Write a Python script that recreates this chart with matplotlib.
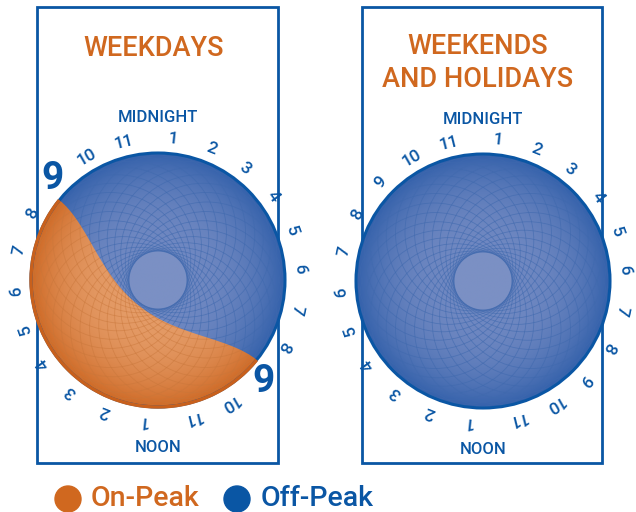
import numpy as np
import matplotlib
matplotlib.use("Agg")
import matplotlib.pyplot as plt
from matplotlib.patches import Circle, Rectangle, Polygon

# data
panel_titles = ["WEEKDAYS", "WEEKENDS\nAND HOLIDAYS"]
on_peak = [(9, 21), None]          # on-peak hours per panel (start, end)
hour_labels = [str(h) for h in range(1, 12)]
legend_labels = ["On-Peak", "Off-Peak"]

ORANGE = "#D0681F"
BLUE = "#0A56A4"
FONT = "Roboto"

fig = plt.figure(figsize=(6.36, 5.12), dpi=100)
ax = fig.add_axes([0, 0, 1, 1])
ax.set_xlim(0, 636)
ax.set_ylim(512, 0)
ax.axis("off")

R = 127
R_HOLE = 29
N_RINGS = 32
BULGE = 32


def clock_angle(h):
    # clockwise degrees from top, the labels are spread a bit on the sides
    h = h % 24
    half, hh = divmod(h, 12)
    if hh == 0:
        return 180.0 * half
    return 180.0 * half + 16 * hh - 10


def pt(cx, cy, ang, r):
    a = np.radians(ang)
    return cx + r * np.sin(a), cy - r * np.cos(a)


def shaded(cx, cy, light, dark, hole=None):
    n = 300
    xs = np.linspace(cx - R, cx + R, n)
    ys = np.linspace(cy - R, cy + R, n)
    X, Y = np.meshgrid(xs, ys)
    rr = np.clip(np.hypot(X - cx, Y - cy) / R, 0, 1)
    t = rr ** 3
    light = np.array(matplotlib.colors.to_rgb(light))
    dark = np.array(matplotlib.colors.to_rgb(dark))
    img = light[None, None, :] * (1 - t[..., None]) + dark[None, None, :] * t[..., None]
    if hole is not None:
        img[rr * R < R_HOLE] = matplotlib.colors.to_rgb(hole)
    return img, (cx - R, cx + R, cy + R, cy - R)


def rings(cx, cy, color, alpha, clip, z):
    rc = (R + R_HOLE) / 2
    d = (R - R_HOLE) / 2
    for k in range(N_RINGS):
        a = 2 * np.pi * k / N_RINGS
        c = Circle((cx + d * np.cos(a), cy + d * np.sin(a)), rc, fill=False,
                   ec=color, lw=0.6, alpha=alpha, zorder=z)
        ax.add_patch(c)
        c.set_clip_path(clip())


def clock(cx, cy, peak, big_nine):
    img, ext = shaded(cx, cy, "#7189C2", "#3461AB", hole="#7B90C4")
    im = ax.imshow(img, extent=ext, zorder=3, interpolation="bilinear")
    im.set_clip_path(Circle((cx, cy), R, transform=ax.transData))
    rings(cx, cy, "#3F69AE", 0.6,
          lambda: Circle((cx, cy), R, transform=ax.transData), 4)

    if peak is not None:
        a0 = clock_angle(peak[0]) - 5
        a1 = clock_angle(peak[1]) - 5
        arc = np.linspace(a0, a1, 120)
        outer = [pt(cx, cy, a, R) for a in arc]
        p0 = np.array(pt(cx, cy, a0, R))
        p1 = np.array(pt(cx, cy, a1, R))
        u_dir = (p0 - p1) / np.linalg.norm(p0 - p1)
        v_dir = np.array([-u_dir[1], u_dir[0]])
        mid = np.array(pt(cx, cy, (a0 + a1) / 2, R)) - [cx, cy]
        if np.dot(v_dir, mid) < 0:
            v_dir = -v_dir
        uu = np.linspace(-R, R, 120)
        curve = [tuple(np.array([cx, cy]) + u * u_dir + BULGE * (1 - (u / R) ** 2) ** 2 * v_dir)
                 for u in uu]
        verts = outer + curve
        img, ext = shaded(cx, cy, "#E59D69", "#CF6A26")
        im2 = ax.imshow(img, extent=ext, zorder=5, interpolation="bilinear")
        im2.set_clip_path(Polygon(verts, closed=True, transform=ax.transData))
        rings(cx, cy, "#C8763A", 0.5,
              lambda: Polygon(verts, closed=True, transform=ax.transData), 6)

    ax.add_patch(Circle((cx, cy), R, fill=False, ec=BLUE, lw=2.2, zorder=7))
    if peak is not None:
        ox, oy = zip(*outer)
        ax.plot(ox, oy, color="#C8601C", lw=2.4, zorder=8, solid_capstyle="butt")

    # hour labels
    for half in range(2):
        for i, lab in enumerate(hour_labels):
            h = 12 * half + i + 1
            ang = clock_angle(h)
            if big_nine and h % 12 == 9:
                x, y = pt(cx, cy, ang, 146)
                ax.text(x, y, "9", fontsize=28, fontweight="bold", color=BLUE,
                        ha="center", va="center", family=FONT, zorder=9)
                continue
            x, y = pt(cx, cy, ang, 142)
            ax.text(x, y, lab, fontsize=12.5, fontweight="medium", color=BLUE,
                    rotation=-ang, rotation_mode="anchor", ha="center",
                    va="center", family=FONT, zorder=9)
    ax.text(cx, cy - 162, "MIDNIGHT", fontsize=12, fontweight="medium", color=BLUE,
            ha="center", va="center", family=FONT, zorder=9)
    ax.text(cx, cy + 168, "NOON", fontsize=12, fontweight="medium", color=BLUE,
            ha="center", va="center", family=FONT, zorder=9)


panels = [(37, 278, 158, 280), (362, 602, 483, 281)]
for (x0, x1, cx, cy), title, peak in zip(panels, panel_titles, on_peak):
    ax.add_patch(Rectangle((x0, 7), x1 - x0, 456, fill=False, ec=BLUE, lw=2, zorder=2))
    ty = 48 if "\n" not in title else 63
    ax.text((x0 + x1) / 2 - 4, ty, title, fontsize=19.5, fontweight="medium",
            color=ORANGE, ha="center", va="center", family=FONT,
            linespacing=1.25, zorder=9)
    clock(cx, cy, peak, peak is not None)

# legend
for (mx, tx), lab, col in zip([(68, 91), (237, 261)], legend_labels, [ORANGE, BLUE]):
    ax.add_patch(Circle((mx, 499), 13, color=col, zorder=9))
    ax.text(tx, 499, lab, fontsize=20.5, fontweight="medium", color=col,
            ha="left", va="center", family=FONT, zorder=9)

fig.savefig("out.png", dpi=100)
